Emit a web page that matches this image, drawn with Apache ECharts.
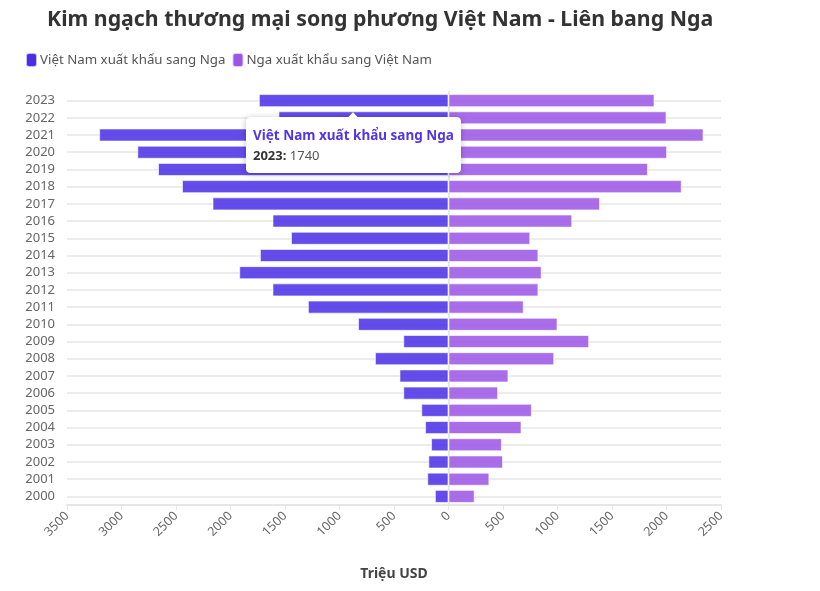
<!DOCTYPE html>
<html>
<head>
<meta charset="utf-8">
<script src="https://cdn.jsdelivr.net/npm/echarts@6/dist/echarts.min.js"></script>
<style>
	html, body { margin: 0; padding: 0; background: #fff; }
	#chart { width: 820px; height: 591px; }
</style>
</head>
<body>
<div id="chart"></div>
<script>
// năm (trục dọc, từ dưới lên)
var years = ['2000', '2001', '2002', '2003', '2004', '2005', '2006', '2007', '2008', '2009', '2010', '2011',
	'2012', '2013', '2014', '2015', '2016', '2017', '2018', '2019', '2020', '2021', '2022', '2023'];
// Việt Nam xuất khẩu sang Nga (triệu USD)
var vnToRu = [125, 195, 185, 160, 215, 250, 415, 450, 675, 415, 830, 1290,
	1615, 1920, 1730, 1445, 1615, 2165, 2445, 2665, 2855, 3205, 1560, 1740];
// Nga xuất khẩu sang Việt Nam (triệu USD)
var ruToVn = [240, 375, 500, 490, 670, 765, 455, 550, 970, 1290, 1000, 690,
	825, 855, 825, 750, 1135, 1390, 2140, 1830, 2005, 2340, 2000, 1890];
var seriesNames = ['Việt Nam xuất khẩu sang Nga', 'Nga xuất khẩu sang Việt Nam'];

var font = '"Noto Sans", sans-serif';
var chart = echarts.init(document.getElementById('chart'));

var option = {
	animation: false,
	textStyle: { fontFamily: font },
	title: {
		text: 'Kim ngạch thương mại song phương Việt Nam - Liên bang Nga',
		left: 42,
		top: 4,
		textStyle: { fontSize: 21.3, fontWeight: 'bold', color: '#333', fontFamily: font }
	},
	legend: {
		left: 20,
		top: 47,
		itemWidth: 11,
		itemHeight: 14,
		itemGap: 6,
		icon: 'roundRect',
		itemStyle: { opacity: 1 },
		textStyle: { fontSize: 13.3, color: '#555', padding: [0, 0, 0, -2] },
		data: seriesNames
	},
	tooltip: {
		trigger: 'item',
		triggerOn: 'none',
		alwaysShowContent: true,
		position: 'bottom',
		transitionDuration: 0,
		backgroundColor: '#fff',
		borderColor: '#fff',
		borderWidth: 1,
		padding: [7, 6],
		extraCssText: 'box-shadow: 0 1px 6px rgba(0,0,0,0.25); border-radius: 4px;',
		textStyle: { fontFamily: font },
		formatter: function (p) {
			return '<div style="color:' + (p.seriesIndex === 0 ? '#5236e6' : '#9b55e5') +
				';font-weight:bold;font-size:13.5px;line-height:21px">' + p.seriesName + '</div>' +
				'<div style="font-size:13px;line-height:19px;color:#555"><b style="color:#333">' + p.name + ':</b> ' +
				Math.abs(p.value) + '</div>';
		}
	},
	grid: { left: 67, right: 99, top: 92, bottom: 86 },
	xAxis: {
		type: 'value',
		min: -3500,
		max: 2500,
		interval: 500,
		name: 'Triệu USD',
		nameLocation: 'middle',
		nameGap: 62,
		nameTextStyle: { fontSize: 14, fontWeight: 'bold', color: '#444' },
		axisLine: { show: true, lineStyle: { color: '#e6e6e6', width: 2 } },
		axisTick: { show: true, length: 5, lineStyle: { color: '#e6e6e6' } },
		splitLine: { show: false },
		axisLabel: {
			rotate: 45,
			margin: 9,
			fontSize: 12.5,
			color: '#666',
			formatter: function (v) { return Math.abs(v); }
		}
	},
	yAxis: {
		type: 'category',
		data: years,
		axisLine: { show: true, lineStyle: { color: '#e6e6e6', width: 2 } },
		axisTick: { show: true, alignWithLabel: true, length: 7, lineStyle: { color: '#e6e6e6', width: 2 } },
		splitLine: { show: true, alignWithLabel: true, lineStyle: { color: '#ececec', width: 2 } },
		axisLabel: { fontSize: 13, color: '#666', margin: 12 }
	},
	series: [
		{
			name: seriesNames[0],
			type: 'bar',
			stack: 'total',
			barCategoryGap: '24%',
			itemStyle: { color: '#4b2ee8', opacity: 0.86, borderColor: 'rgba(255,255,255,0.7)', borderWidth: 1 },
			emphasis: { disabled: true },
			data: vnToRu.map(function (v) { return -v; })
		},
		{
			name: seriesNames[1],
			type: 'bar',
			stack: 'total',
			barCategoryGap: '24%',
			itemStyle: { color: '#9b55e5', opacity: 0.86, borderColor: 'rgba(255,255,255,0.7)', borderWidth: 1 },
			emphasis: { disabled: true },
			data: ruToVn
		}
	]
};

chart.setOption(option);
// hiện tooltip cho năm 2023
chart.dispatchAction({ type: 'showTip', seriesIndex: 0, dataIndex: years.length - 1 });
</script>
</body>
</html>
